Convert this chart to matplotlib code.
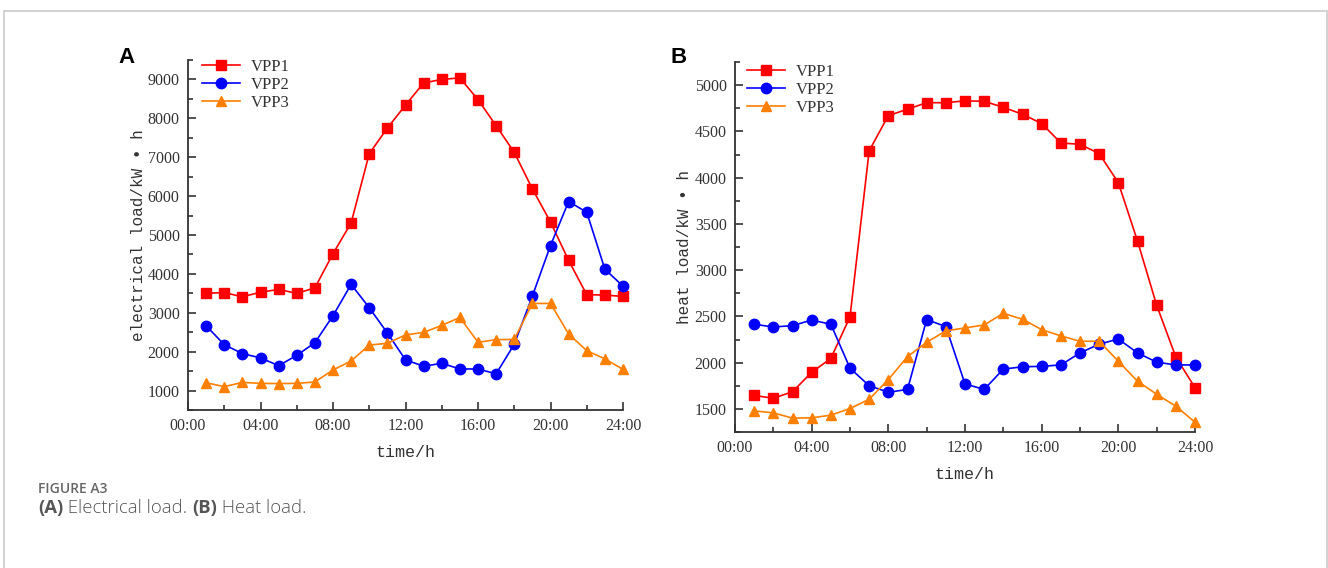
import matplotlib
matplotlib.use("Agg")
import matplotlib.pyplot as plt
from matplotlib.patches import Rectangle
from matplotlib.ticker import MultipleLocator, FuncFormatter

# ---------------------------------------------------------
# data (hour 1..24)
# ---------------------------------------------------------
hours = list(range(1, 25))

elec_vpp1 = [3500, 3520, 3410, 3530, 3600, 3500, 3640, 4520, 5310, 7090, 7750, 8340,
             8910, 9000, 9040, 8480, 7810, 7125, 6185, 5335, 4345, 3465, 3455, 3420]
elec_vpp2 = [2665, 2180, 1950, 1840, 1640, 1905, 2230, 2925, 3730, 3130, 2480, 1790,
             1625, 1700, 1555, 1555, 1430, 2190, 3430, 4730, 5860, 5585, 4120, 3685]
elec_vpp3 = [1200, 1100, 1210, 1185, 1180, 1185, 1220, 1530, 1760, 2170, 2215, 2430,
             2495, 2675, 2880, 2240, 2310, 2315, 3240, 3240, 2455, 2025, 1815, 1545]

heat_vpp1 = [1645, 1615, 1685, 1895, 2045, 2495, 4290, 4670, 4740, 4810, 4810, 4830,
             4825, 4760, 4685, 4585, 4375, 4360, 4260, 3945, 3315, 2620, 2060, 1730]
heat_vpp2 = [2415, 2385, 2400, 2460, 2415, 1940, 1750, 1680, 1710, 2465, 2390, 1770,
             1710, 1930, 1955, 1960, 1975, 2105, 2200, 2255, 2105, 2005, 1975, 1975]
heat_vpp3 = [1478, 1457, 1400, 1403, 1432, 1504, 1604, 1817, 2065, 2220, 2343, 2375,
             2407, 2533, 2469, 2357, 2289, 2231, 2231, 2015, 1799, 1658, 1529, 1356]

series_names = ["VPP1", "VPP2", "VPP3"]
colors = ["#ff0000", "#0000ff", "#ff8000"]
markers = ["s", "o", "^"]
msizes = [6.5, 7.5, 7.5]

W, H = 1328, 568
fig = plt.figure(figsize=(W / 100, H / 100), dpi=100)

# light grey frame around the figure
fig.patches.append(Rectangle((4 / W, -0.1), (1327 - 4) / W, (H - 11) / H + 0.1,
                             transform=fig.transFigure, fill=False,
                             edgecolor="#cfcfcf", linewidth=1.3))


def px(l, t, r, b):
    return [l / W, (H - b) / H, (r - l) / W, (b - t) / H]


def draw_panel(rect, data, ylim, ymajor, ylabel, leg_xy, ylabelpad):
    ax = fig.add_axes(rect)
    for vals, name, c, m, ms in zip(data, series_names, colors, markers, msizes):
        ax.plot(hours, vals, color=c, marker=m, markersize=ms, linewidth=1.2,
                label=name, clip_on=False)
    ax.set_xlim(0, 24)
    ax.set_ylim(*ylim)
    ax.xaxis.set_major_locator(MultipleLocator(4))
    ax.xaxis.set_minor_locator(MultipleLocator(2))
    ax.yaxis.set_major_locator(MultipleLocator(ymajor))
    ax.yaxis.set_minor_locator(MultipleLocator(ymajor / 2))
    ax.xaxis.set_major_formatter(FuncFormatter(lambda v, p: "%02d:00" % int(v)))
    ax.yaxis.set_major_formatter(FuncFormatter(lambda v, p: "%d" % v if v >= ylim[0] + ymajor / 2 else ""))
    for s in ["top", "right"]:
        ax.spines[s].set_visible(False)
    for s in ["left", "bottom"]:
        ax.spines[s].set_linewidth(1.3)
        ax.spines[s].set_color("#333333")
    ax.tick_params(which="both", direction="in", color="#333333", width=1.2)
    ax.tick_params(which="major", length=6, labelsize=11.5, pad=6, labelcolor="#333333")
    ax.tick_params(which="minor", length=3.5)
    for lab in ax.get_xticklabels() + ax.get_yticklabels():
        lab.set_family("Liberation Serif")
    ax.set_xlabel("time/h", family="Liberation Mono", fontsize=12, color="#333333", labelpad=8)
    ax.set_ylabel(ylabel, family="Liberation Mono", fontsize=11.5, color="#333333",
                  labelpad=ylabelpad)
    ax.legend(loc="upper left", bbox_to_anchor=(leg_xy[0] / W, (H - leg_xy[1]) / H),
              bbox_transform=fig.transFigure, frameon=False, borderpad=0,
              borderaxespad=0, handlelength=2.3, handletextpad=0.6, labelspacing=0.12,
              prop={"family": "Liberation Serif", "size": 12}, labelcolor="#333333")
    return ax


axA = draw_panel(px(188, 60, 623, 410), [elec_vpp1, elec_vpp2, elec_vpp3],
                 (500, 9500), 1000, "electrical load/kW • h", (202, 59), 1)
axB = draw_panel(px(735, 62, 1195, 432), [heat_vpp1, heat_vpp2, heat_vpp3],
                 (1250, 5250), 500, "heat load/kW • h", (747, 64), 2)

fig.text(118 / W, (H - 63) / H, "A", family="Liberation Sans", fontweight="bold", fontsize=16)
fig.text(671 / W, (H - 63) / H, "B", family="Liberation Sans", fontweight="bold", fontsize=16)

fig.text(38 / W, (H - 493) / H, "FIGURE A3", family="Open Sans", fontsize=10,
         fontweight="semibold", color="#666666")

# caption line with bold panel letters, pieces placed one after another
cap_y = (H - 513) / H
pieces = [("(A)", "bold"), (" Electrical load. ", "light"), ("(B)", "bold"), (" Heat load.", "light")]
fig.canvas.draw()
renderer = fig.canvas.get_renderer()
x = 38
for txt, wt in pieces:
    t = fig.text(x / W, cap_y, txt, family="Open Sans", fontsize=13.3, fontweight=wt,
                 color="#555555")
    x = t.get_window_extent(renderer).x1

fig.savefig("out.png", dpi=100)
